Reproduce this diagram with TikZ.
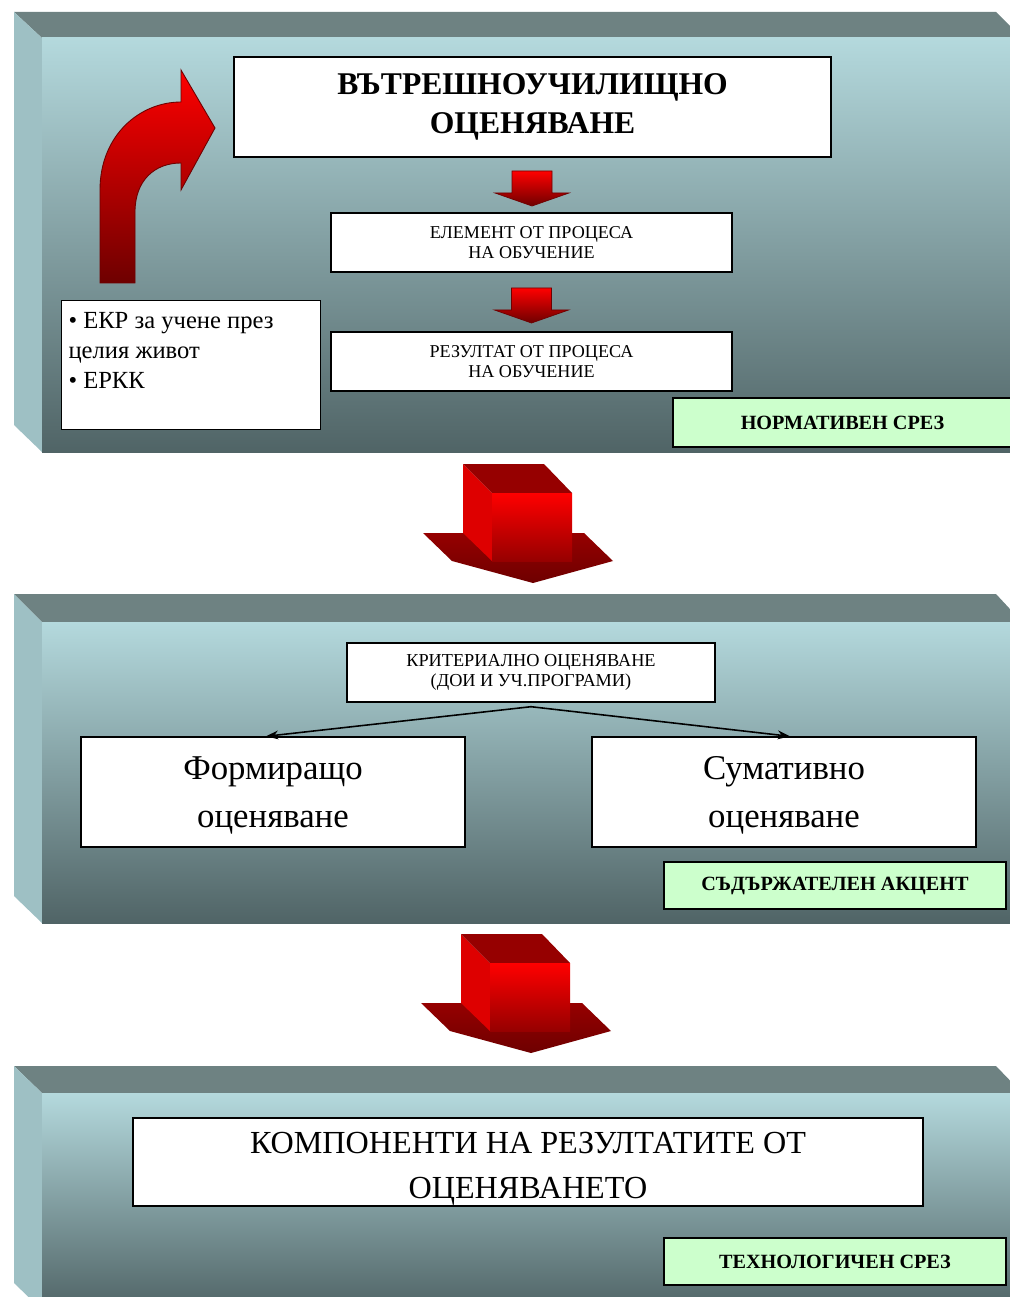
\documentclass[tikz,border=0pt]{standalone}
\usepackage{fontspec}
\setmainfont{Liberation Serif}
\usetikzlibrary{calc,arrows.meta}
\definecolor{faceblue}{RGB}{180,217,221}
\definecolor{facemid}{RGB}{148,178,181}
\definecolor{facedark}{RGB}{80,100,102}
\definecolor{topgray}{RGB}{110,130,130}
\definecolor{sideblue}{RGB}{158,192,196}
\definecolor{taggreen}{RGB}{204,255,204}
\definecolor{arrowred}{RGB}{255,0,0}
\definecolor{arrowdark}{RGB}{110,0,0}
\definecolor{arrowwing}{RGB}{150,0,0}
\definecolor{arrowside}{RGB}{222,0,0}

\begin{document}
\begin{tikzpicture}[
    x=0.02cm, y=-0.02cm,
    box/.style={rectangle, draw=black, fill=white, line width=0.8pt, text centered, align=center, inner sep=2pt},
    tag/.style={rectangle, draw=black, fill=taggreen, line width=1pt, minimum width=6.84cm, minimum height=0.94cm, font=\fontsize{11.5}{13}\selectfont\bfseries},
    topface/.style={fill=topgray},
    sideface/.style={fill=sideblue},
    frontface/.style={top color=faceblue, middle color=facemid, bottom color=facedark},
    flow/.style={-{Stealth[length=7pt,width=5pt]}, line width=0.9pt},
    downarrow/.pic={
        \shadedraw[top color=arrowred, bottom color=arrowdark, draw=arrowdark, line width=0.4pt]
            (-20,-14) -- (20,-14) -- (20,8) -- (37,8) -- (0,21) -- (-37,8) -- (-20,8) -- cycle;
    },
    blockarrow/.pic={
        \shade[top color=arrowwing, bottom color=arrowdark] (-110,69) -- (51,69) -- (80,97) -- (0,119) -- (-81,97) -- cycle;
        \fill[arrowside] (-70,0) -- (-41,29) -- (-41,97) -- (-70,69) -- cycle;
        \fill[arrowwing] (-70,0) -- (11,0) -- (39,29) -- (-41,29) -- cycle;
        \shade[top color=arrowred, bottom color=arrowwing] (-41,29) rectangle (39,97);
    }
]

% Background
\fill[white] (0,0) rectangle (1009,1297);
\useasboundingbox (0,0) rectangle (1009,1297);

% Panel 1
\fill[topface] (14,12) -- (996,12) -- (1022,38) -- (42,38) -- cycle;
\fill[sideface] (14,12) -- (42,38) -- (42,452) -- (14,425) -- cycle;
\shade[frontface] (42,38) rectangle (1012,452);

% Panel 2
\fill[topface] (14,594) -- (996,594) -- (1022,622) -- (42,622) -- cycle;
\fill[sideface] (14,594) -- (42,622) -- (42,923) -- (14,896) -- cycle;
\shade[frontface] (42,622) rectangle (1012,923);

% Panel 3
\fill[topface] (14,1066) -- (996,1066) -- (1022,1093) -- (42,1093) -- cycle;
\fill[sideface] (14,1066) -- (42,1093) -- (42,1310) -- (14,1283) -- cycle;
\shade[frontface] (42,1093) rectangle (1012,1310);

% Normative level
\node[box, minimum width=11.94cm, minimum height=2cm, font=\fontsize{18}{22}\selectfont\bfseries] (title) at (532.5,107) {ВЪТРЕШНОУЧИЛИЩНО\\ОЦЕНЯВАНЕ};
\node[box, minimum width=8.02cm, minimum height=1.18cm, font=\fontsize{10.3}{11.3}\selectfont] (element) at (531.5,242.5) {ЕЛЕМЕНТ ОТ ПРОЦЕСА\\НА ОБУЧЕНИЕ};
\node[box, minimum width=8.02cm, minimum height=1.18cm, font=\fontsize{10.3}{11.3}\selectfont] (result) at (531.5,361.5) {РЕЗУЛТАТ ОТ ПРОЦЕСА\\НА ОБУЧЕНИЕ};
\node[box, inner xsep=4pt, font=\fontsize{14}{17}\selectfont] (frames) at (191,365) {\parbox[c][2.44cm][t]{4.9cm}{\raggedright\vspace*{5pt}• ЕКР за учене през\\целия живот\\• ЕРКК}};
\node[tag, minimum width=6.78cm, minimum height=0.98cm] (normcut) at (842.5,422.5) {НОРМАТИВЕН СРЕЗ};

\pic at ($(title.south)!0.5!(element.north)$) {downarrow};
\pic at ($(element.south)!0.5!(result.north)$) {downarrow};

% Curved arrow
\shadedraw[top color=arrowred, bottom color=arrowdark, draw=arrowdark, line width=0.5pt]
  (100,283) -- (100,190) .. controls (100,135) and (140,102) .. (181,102) -- (181,70) -- (215,128) -- (181,190) -- (181,163) .. controls (155,163) and (135,180) .. (135,212) -- (135,283) -- cycle;

% Big arrows
\pic at (533,464) {blockarrow};
\pic at (531,934) {blockarrow};

% Content accent
\node[box, minimum width=7.36cm, minimum height=1.18cm, font=\fontsize{10.4}{11.3}\selectfont] (crit) at (531,672.5) {КРИТЕРИАЛНО ОЦЕНЯВАНЕ\\(ДОИ И УЧ.ПРОГРАМИ)};
\node[box, minimum width=7.68cm, minimum height=2.2cm, font=\fontsize{19.8}{27.3}\selectfont] (formative) at (273,792) {\raisebox{-7pt}[0pt][0pt]{\parbox[c]{7cm}{\centering Формиращо\\оценяване}}};
\node[box, minimum width=7.68cm, minimum height=2.2cm, font=\fontsize{19.8}{27.3}\selectfont] (summative) at (784,792) {\raisebox{-7pt}[0pt][0pt]{\parbox[c]{7cm}{\centering Сумативно\\оценяване}}};
\node[tag] (accent) at (835,885.5) {СЪДЪРЖАТЕЛЕН АКЦЕНТ};

\draw[flow] ([yshift=-0.08cm]crit.south) -- ([xshift=-0.14cm]formative.north);
\draw[flow] ([yshift=-0.08cm]crit.south) -- ([xshift=0.12cm]summative.north);

% Technological level
\node[box, minimum width=15.8cm, minimum height=1.76cm, font=\fontsize{18.3}{25.5}\selectfont] (components) at (528,1162) {\raisebox{-8pt}[0pt][0pt]{\parbox[c]{15cm}{\centering КОМПОНЕНТИ НА РЕЗУЛТАТИТЕ ОТ\\ОЦЕНЯВАНЕТО}}};
\node[tag] (techcut) at (835,1261.5) {ТЕХНОЛОГИЧЕН СРЕЗ};

\end{tikzpicture}
\end{document}
